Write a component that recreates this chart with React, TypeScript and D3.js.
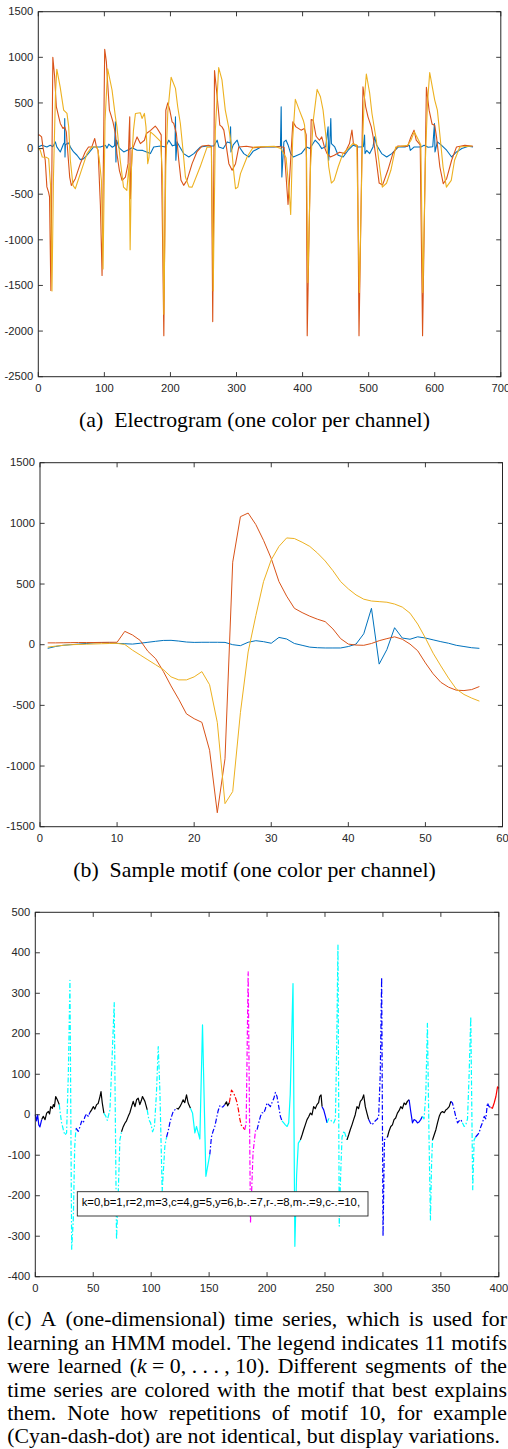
import React, { useLayoutEffect, useRef } from 'react';
import * as d3 from 'd3';

const W = 508, H = 1449;
const SX = 1.09;
const fontSans = "'Liberation Sans', Arial, Helvetica, sans-serif";
const fontSerif = "'Liberation Serif', 'Times New Roman', Times, serif";
const AXC = '#262626';

// ---------- Panel (a): electrogram, three channels ----------
const ticksAX = [0, 100, 200, 300, 400, 500, 600, 700];
const ticksAY = [-2500, -2000, -1500, -1000, -500, 0, 500, 1000, 1500];

const blueA: [number, number][] = [
  [0,18],[5.5,37],[13,18],[18,37],[22,20],[25.8,73],[28,18],[33.3,-37],[38.4,55],[39.6,60],[40,330],[40.4,-92],[41,40],[43.4,55],[46,62],[49,10],[53.5,-37],[58.6,-73],[63.6,-121],[68.7,-110],[73.7,-73],[83.8,18],[94,18],[101.5,37],[104,5],[106.6,48],[112,15],[115.5,30],[116.7,293],[117.5,-147],[118.5,92],[122,10],[129.3,-37],[137,-10],[142,10],[149.5,-18],[158,-20],[169.7,-55],[174.7,18],[185,29],[192.4,18],[197.5,92],[203,30],[207,40],[207.6,348],[208.2,-128],[210,73],[214,20],[220,-55],[227.8,-92],[235.4,-55],[245.5,18],[255.6,29],[265.7,29],[270.7,92],[273.2,18],[280,0],[286,73],[290.5,60],[291,238],[291.6,-37],[295,40],[301,92],[304,20],[311,-55],[318.7,-92],[325,-30],[337,18],[357,18],[366.5,25],[367.6,458],[368.6,-312],[371.7,73],[375,92],[378,40],[382,-55],[386,-92],[398,-55],[406,18],[411,0],[419,92],[424,55],[429,0],[435,20],[438.6,238],[439.5,-128],[441,30],[442.7,330],[443.6,55],[448.7,18],[453.8,-73],[461.4,-92],[469,-18],[476.6,37],[484,18],[492,20],[493.8,147],[494.5,-55],[497,-20],[501.6,-55],[506.6,18],[509,128],[512,40],[519.7,-55],[527.3,-92],[535,-55],[545,18],[555,18],[561.5,37],[563,-20],[569,18],[579,18],[584,37],[590,15],[597,20],[599.6,275],[600.4,-37],[604,73],[610,37],[618,-18],[625.6,-92],[633,-37],[641,0],[651,25],[658,18]
];

const redA: [number, number][] = [
  [0,150],[2,147],[5,128],[7,18],[10.5,-128],[13,-420],[15.5,-477],[17,-530],[19,-1555],[22,1000],[24.7,790],[27.3,460],[30.8,350],[33.3,275],[37.4,220],[40,238],[42.4,183],[44.4,-18],[47.5,-312],[50,-403],[56,-330],[63.6,-165],[71,-37],[76,18],[81,18],[85.4,110],[88,18],[90.5,-18],[94,-626],[96.5,-1390],[100.5,1089],[103,953],[105,715],[107.6,422],[110,367],[113,293],[116.7,165],[119,-55],[122.7,-238],[126.8,-348],[131.8,-312],[135.9,-165],[137.4,165],[138.4,348],[139.3,-550],[142,-18],[149.5,128],[154.5,55],[160.6,91],[163.6,165],[170,200],[177,246],[180,220],[186,150],[190,-2050],[193,420],[196,502],[199,421],[202.5,293],[205,275],[209,165],[212.6,-128],[216,-348],[220,-403],[225,-348],[232.8,-165],[240,-37],[248,29],[258,37],[262,20],[264,-1896],[266.7,854],[270.7,568],[274.7,257],[278,238],[280.8,202],[284.3,37],[288.4,-165],[293.4,-238],[298.5,-165],[303.5,18],[315,25],[327,10],[345,20],[365,20],[372,15],[378,-613],[385.3,293],[390,238],[397.7,202],[402.7,220],[405.5,150],[407,-2050],[413,319],[416,311],[420.4,135],[425.5,91],[429,128],[433,18],[437,-55],[442,-92],[448,-73],[456,-40],[463.6,-55],[471,55],[474.7,202],[477,50],[483,30],[485.4,-2050],[491.4,678],[495.5,458],[499,348],[504,238],[506.8,128],[510.9,-92],[515.9,-378],[521,-400],[529,-238],[536.6,-55],[544,29],[559,25],[564,128],[568.7,202],[572,92],[578,40],[581.6,-2050],[587.4,671],[591.5,421],[596,268],[600,256],[602.7,128],[607.8,-202],[612.9,-385],[618,-330],[625.6,-128],[633,18],[645.7,37],[658,26]
];

const yellowA: [number, number][] = [
  [0,10],[3,-20],[6,-92],[12,-95],[15.7,-110],[18.5,-400],[20.7,-1560],[23,-300],[26,600],[28,870],[33,678],[38.4,422],[43.4,385],[46,238],[48.5,-128],[52.5,-403],[56,-440],[63.6,-275],[73.7,-55],[81,18],[89,18],[92,-100],[94,-238],[95.5,-348],[98,-1320],[101,300],[105,873],[111.6,642],[116.7,348],[119,238],[124,-128],[129,-422],[134,-458],[137.5,-165],[139,-1108],[141,-200],[144,200],[147,385],[154.5,392],[157,330],[160.6,385],[163,238],[165.6,-165],[167.5,-100],[169.7,183],[175,150],[185,80],[188,-300],[190,-1815],[193,-200],[196,400],[201,781],[207.6,660],[211,458],[215,275],[219,-18],[222.7,-312],[228,-420],[232.8,-422],[245,-200],[255.6,18],[262,15],[264.7,-1559],[268,200],[273,887],[278,752],[283,422],[288,238],[292,55],[296,-275],[298.5,-440],[302,-422],[306,-275],[316,-92],[324,0],[327,18],[357,25],[367,0],[375,-100],[380,-500],[382,-723],[385,100],[389,539],[395,421],[401,311],[403,256],[406,-100],[408,-1467],[412,-200],[416,300],[422,649],[427,568],[431,421],[436,91],[439.6,-202],[443.6,-378],[447.7,-349],[453.8,-202],[461,-55],[469,0],[476,55],[482,40],[486,-1577],[490,-100],[493,500],[496.5,817],[501.6,604],[505,384],[511.6,91],[516.6,-202],[520.7,-422],[527,-380],[533.6,-238],[541,18],[548.7,25],[559,37],[564,92],[569,183],[575,100],[579,40],[582,-1577],[586,-100],[589,500],[592.4,832],[600,531],[604,421],[607.6,165],[612.6,-202],[617.7,-422],[625,-348],[630,-128],[638,18],[656,29]
];

// ---------- Panel (b): sample motif, 57 samples per channel ----------
const ticksBX = [0, 10, 20, 30, 40, 50, 60];
const ticksBY = [-1500, -1000, -500, 0, 500, 1000, 1500];
const blueB = [-30,-15,-5,0,5,10,15,18,15,11,8,5,12,20,28,35,36,30,22,19,20,20,20,19,0,-8,20,33,25,12,60,47,10,-5,-20,-25,-27,-27,-27,-15,5,90,300,-160,-40,140,55,45,65,55,40,25,12,-5,-15,-25,-30];
const redB = [15,15,16,17,18,18,18,19,20,20,110,80,35,-55,-115,-220,-340,-450,-570,-610,-640,-870,-1385,-940,680,1055,1085,990,860,710,520,400,300,265,235,210,190,130,50,5,-3,-5,10,33,50,65,45,5,-50,-150,-240,-310,-350,-375,-378,-370,-345];
const yellowB = [-20,-12,-5,0,2,4,6,8,10,11,2,-45,-85,-125,-165,-205,-265,-290,-290,-265,-222,-330,-640,-1310,-1210,-560,-60,240,520,700,810,880,875,845,810,755,690,610,520,460,410,375,360,355,350,335,310,260,170,55,-70,-175,-275,-365,-410,-440,-465];

// ---------- Panel (c): time series segmented by motif ----------
const ticksCX = [0, 50, 100, 150, 200, 250, 300, 350, 400];
const ticksCY = [-400, -300, -200, -100, 0, 100, 200, 300, 400, 500];
const legendText = 'k=0,b=1,r=2,m=3,c=4,g=5,y=6,b-.=7,r-.=8,m-.=9,c-.=10,';

const segmentsC: [number, [number, number][]][] = [
  [1, [[0,0],[1,-15],[2,0],[3,-25],[4,-30],[5.5,-12]]],
  [0, [[5.5,-12],[6.9,-4],[8.4,-12],[9.8,4],[11.3,8],[12.3,2],[13.3,20],[14.7,16],[15.6,25],[16.5,20],[17.6,45],[19,37],[20.7,25]]],
  [10, [[20.7,25],[21.5,5],[22.7,-20],[24.2,-37],[25.5,-50],[27,-45],[28.5,100],[29.9,332],[31.4,-332],[32.8,-259],[34,-80],[35.1,-33]]],
  [7, [[35.1,-33],[37.1,-41],[38.5,-30],[40,-16],[41.4,-20],[42.8,-5],[44.3,2],[45.7,-4],[47.2,6]]],
  [0, [[47.2,6],[48.6,12],[50,20],[51.4,14],[52.9,25],[54.3,28],[55.8,45],[56.7,57],[57.8,29],[59.2,4]]],
  [10, [[59.2,4],[60.9,-4],[62.1,-14],[64.4,12],[66,120],[68.1,277],[70.1,-308],[71.5,-200],[73,-62],[74.4,-42]]],
  [0, [[74.4,-42],[75.8,-30],[77.3,-21],[78.7,-15],[80.2,-4],[81.6,5],[83.1,20],[84.5,33],[86,20],[87.4,37],[88.8,41],[90.2,25],[91.5,35],[92.5,45],[94.6,33],[96.6,12]]],
  [10, [[96.6,12],[98,-12],[99.5,-20],[101.2,-42],[102.8,-30],[104.5,50],[106.1,168],[107.5,60],[109.5,-189],[111.8,-78],[113.3,-55]]],
  [7, [[113.3,-55],[114.7,-40],[116.1,-20],[117.5,-5],[119,8],[120.4,12],[121.9,16]]],
  [0, [[121.9,16],[123.3,14],[124.8,20],[126.2,28],[127.6,37],[129,30],[130.5,49],[131.9,29],[133.9,16]]],
  [4, [[133.9,16],[135.7,4],[137.7,-45],[139.1,-29],[140.6,-45],[142,-60],[144.3,222],[147.2,-152],[150.6,-98]]],
  [7, [[150.6,-98],[152,-55],[153.5,-40],[154.9,-29],[156.3,-10],[157.8,10],[159.2,22],[160.6,18],[162.1,20],[163.5,25]]],
  [0, [[163.5,25],[165,32],[166,22],[167.5,30]]],
  [8, [[167.5,30],[169.3,61],[170.9,55],[172.4,45],[173.8,33],[175.3,12],[176.5,-10],[177.6,-25],[180.8,-37]]],
  [9, [[180.8,-37],[182,-20],[183.7,353],[185.7,-267],[187.9,-94],[190,-40],[191.4,-37]]],
  [7, [[191.4,-37],[192.8,-20],[194.3,-4],[195.7,5],[197.2,4],[198.6,15],[200,29],[201.4,25],[202.9,20],[204.3,30],[205.8,40],[207.2,55],[208.6,45],[210.1,20],[211.5,-4],[212.9,-15]]],
  [4, [[212.9,-15],[214.4,-20],[215.8,-25],[217.3,-29],[218.7,-20],[220,50],[222.4,324],[224,-325],[225.5,-150],[227,-70],[228.8,-62]]],
  [0, [[228.8,-62],[230.2,-50],[231.6,-37],[233,-25],[234.5,-12],[235.9,-5],[237.4,4],[238.8,0],[240.2,20],[241.6,15],[243.1,25],[244.5,30],[245.4,45],[246.6,49],[247.5,20]]],
  [1, [[247.5,20],[248.9,12],[250.4,-4],[251.8,-20]]],
  [10, [[251.8,-20],[253.2,-10],[254.7,-12],[256.1,-18],[257.6,-20],[259,-10],[260,150],[261.2,419],[262.3,-275],[263.5,-150],[264.7,-55],[266.5,-40],[269,-62]]],
  [0, [[269,-62],[270.4,-50],[271.8,-37],[273.3,-25],[274.7,-12],[276.1,0],[277.6,20],[279,15],[280.5,33],[282,38],[283.4,49],[284.8,20],[286.2,4],[287.7,-12]]],
  [7, [[287.7,-12],[289.1,-20],[290.5,-25],[292,-20],[293.4,-15],[294.8,-12],[296.3,-5],[297.7,100],[298.9,339],[300.1,-300],[301.3,-62],[302.6,-58],[303.9,-55]]],
  [0, [[303.9,-55],[305.3,-40],[306.8,-29],[308.2,-25],[309.6,-12],[311,-8],[312.5,4],[313.9,10],[315.4,20],[316.8,15],[318.3,29],[319.7,25],[321.1,33],[322.6,37]]],
  [1, [[322.6,37],[324,8],[325.5,-20],[326.9,-12],[328.3,-14],[329.8,-20],[331.2,-18],[332.6,-12],[334.1,-4]]],
  [10, [[334.1,-4],[335.5,-10],[337,50],[338.4,226],[339.8,-60],[341,-260],[342,-120],[342.8,-62]]],
  [0, [[342.8,-62],[344.2,-50],[345.7,-37],[347.1,-20],[348.6,-4],[350,5],[351.4,8],[352.9,5],[354.3,12],[355.7,15],[357.2,20],[358.6,33]]],
  [7, [[358.6,33],[360,29],[361.5,12],[362.9,-5],[364.4,-20],[365.8,-15],[367.2,-12],[368.6,-20]]],
  [10, [[368.6,-20],[370.1,-29],[371.5,-25],[373,-10],[374.4,100],[375.8,242],[377.5,-185],[378.7,-62],[380,-55]]],
  [7, [[380,-55],[381.5,-50],[383,-45],[384.4,-30],[385.9,-20],[387.4,-4],[388.8,-10],[390.2,29],[391.7,20],[393,18]]],
  [2, [[393,18],[394.5,16],[396,29],[397.5,45],[398.9,69],[400,65]]],
];

const DASHDOT = '5,2,1.5,2';
const motifStyle: Record<number, { c: string; d?: string }> = {
  0: { c: '#000000' }, 1: { c: '#0000ff' }, 2: { c: '#ff0000' }, 3: { c: '#ff00ff' },
  4: { c: '#00ffff' }, 5: { c: '#00ff00' }, 6: { c: '#ffff00' },
  7: { c: '#0000ff', d: DASHDOT }, 8: { c: '#ff0000', d: DASHDOT },
  9: { c: '#ff00ff', d: DASHDOT }, 10: { c: '#00ffff', d: DASHDOT },
};

// ---------- captions ----------
const captionA = '(a)  Electrogram (one color per channel)';
const captionB = '(b)  Sample motif (one color per channel)';
const captionC: string[][] = [
  ['(c)', 'A', '(one-dimensional)', 'time', 'series,', 'which', 'is', 'used', 'for'],
  ['learning', 'an', 'HMM', 'model.', 'The', 'legend', 'indicates', '11', 'motifs'],
  ['were', 'learned', '§MATH', 'Different', 'segments', 'of', 'the'],
  ['time', 'series', 'are', 'colored', 'with', 'the', 'motif', 'that', 'best', 'explains'],
  ['them.', 'Note', 'how', 'repetitions', 'of', 'motif', '10,', 'for', 'example'],
  ['(Cyan-dash-dot)', 'are', 'not', 'identical,', 'but', 'display', 'variations.'],
];

// ---------- frames ----------
const xA = d3.scaleLinear().domain([0, 700]).range([38.3, 500.8]);
const yA = d3.scaleLinear().domain([-2500, 1500]).range([376.7, 11.7]);
const xB = d3.scaleLinear().domain([0, 60]).range([40, 502.5]);
const yB = d3.scaleLinear().domain([-1500, 1500]).range([826.7, 462.7]);
const xC = d3.scaleLinear().domain([0, 400]).range([35.3, 498.8]);
const yC = d3.scaleLinear().domain([-400, 500]).range([1276.7, 912.3]);

function Axes({ xs, ys, xt, yt }: any) {
  const [l, r] = xs.range();
  const [b, t] = ys.range();
  const TL = 4.6;
  return (
    <g fontFamily={fontSans} fontSize={10.3} fill={AXC}>
      {xt.map((v: number) => (
        <g key={'x' + v}>
          <line x1={xs(v)} x2={xs(v)} y1={b} y2={b - TL} stroke={AXC} strokeWidth={0.9} />
          <line x1={xs(v)} x2={xs(v)} y1={t} y2={t + TL} stroke={AXC} strokeWidth={0.9} />
          <text transform={`translate(${xs(v)},${b + 15.3}) scale(${SX},1)`} textAnchor="middle">{String(v)}</text>
        </g>
      ))}
      {yt.map((v: number) => (
        <g key={'y' + v}>
          <line x1={l} x2={l + TL} y1={ys(v)} y2={ys(v)} stroke={AXC} strokeWidth={0.9} />
          <line x1={r} x2={r - TL} y1={ys(v)} y2={ys(v)} stroke={AXC} strokeWidth={0.9} />
          <text transform={`translate(${l - 5},${ys(v) + 3.7}) scale(${SX},1)`} textAnchor="end">{String(v)}</text>
        </g>
      ))}
      <rect x={l} y={t} width={r - l} height={b - t} fill="none" stroke={AXC} strokeWidth={1} />
    </g>
  );
}

const CAP_L = 7.3, CAP_R = 507;
const CAP_Y0 = 1326.4, CAP_DY = 23.4;

export default function App() {
  const capRef = useRef<SVGGElement>(null);

  useLayoutEffect(() => {
    if (!capRef.current) return;
    const lines = d3.select(capRef.current).selectAll<SVGGElement, unknown>('g.capline').nodes();
    lines.forEach((ln, i) => {
      const texts = Array.from(ln.querySelectorAll('text.word')) as SVGTextElement[];
      const widths = texts.map(t => t.getComputedTextLength());
      const total = d3.sum(widths);
      const avail = (CAP_R - CAP_L) / SX;
      const last = i === captionC.length - 1;
      const gap = last ? 5 : (avail - total) / (texts.length - 1);
      let x = 0;
      texts.forEach((t, j) => { t.setAttribute('x', String(x)); x += widths[j] + gap; });
    });
  }, []);

  const lineA = d3.line<[number, number]>().x(d => xA(d[0])).y(d => yA(d[1]));
  const lineB = d3.line<number>().x((_, i) => xB(i + 1)).y(d => yB(d));
  const lineC = d3.line<[number, number]>().x(d => xC(d[0])).y(d => yC(d[1]));

  return (
    <svg width={W} height={H} style={{ position: 'absolute', left: 0, top: 0, display: 'block', background: '#fff' }}>
      <rect width={W} height={H} fill="#fff" />
      {/* Panel A */}
      <g fill="none" strokeWidth={1.1} strokeLinejoin="round">
        <path d={lineA(blueA) || ''} stroke="#0072BD" />
        <path d={lineA(redA) || ''} stroke="#D95319" />
        <path d={lineA(yellowA) || ''} stroke="#EDB120" />
      </g>
      <Axes xs={xA} ys={yA} xt={ticksAX} yt={ticksAY} />
      <text transform={`translate(254.5,426.7) scale(${SX},1)`} textAnchor="middle" fontFamily={fontSerif} fontSize={20} style={{ whiteSpace: 'pre' }}>{captionA}</text>

      {/* Panel B */}
      <g fill="none" strokeWidth={1} strokeLinejoin="round">
        <path d={lineB(blueB) || ''} stroke="#0072BD" />
        <path d={lineB(redB) || ''} stroke="#D95319" />
        <path d={lineB(yellowB) || ''} stroke="#EDB120" />
      </g>
      <Axes xs={xB} ys={yB} xt={ticksBX} yt={ticksBY} />
      <text transform={`translate(254.5,876.7) scale(${SX},1)`} textAnchor="middle" fontFamily={fontSerif} fontSize={20} style={{ whiteSpace: 'pre' }}>{captionB}</text>

      {/* Panel C */}
      <g fill="none" strokeWidth={1.2} strokeLinejoin="round">
        {segmentsC.map(([m, pts], i) => (
          <path key={i} d={lineC(pts) || ''} stroke={motifStyle[m].c} strokeDasharray={motifStyle[m].d} />
        ))}
      </g>
      <Axes xs={xC} ys={yC} xt={ticksCX} yt={ticksCY} />
      <g>
        <rect x={77.3} y={1191.7} width={290.7} height={24.3} fill="#fff" stroke={AXC} strokeWidth={0.9} />
        <text transform={`translate(81.7,1205.6) scale(${SX},1)`} fontFamily={fontSans} fontSize={10.4} fill="#000">{legendText}</text>
      </g>

      {/* Caption C, justified */}
      <g ref={capRef} fontFamily={fontSerif} fontSize={20} fill="#000">
        {captionC.map((words, i) => (
          <g key={i} className="capline" transform={`translate(${CAP_L},${CAP_Y0 + i * CAP_DY}) scale(${SX},1)`}>
            {words.map((w, j) =>
              w === '§MATH' ? (
                <text key={j} className="word" x={0} style={{ whiteSpace: 'pre' }}>
                  <tspan>(</tspan><tspan fontStyle="italic">k</tspan><tspan>{' = 0, . . . , 10).'}</tspan>
                </text>
              ) : (
                <text key={j} className="word" x={0}>{w}</text>
              )
            )}
          </g>
        ))}
      </g>
    </svg>
  );
}
